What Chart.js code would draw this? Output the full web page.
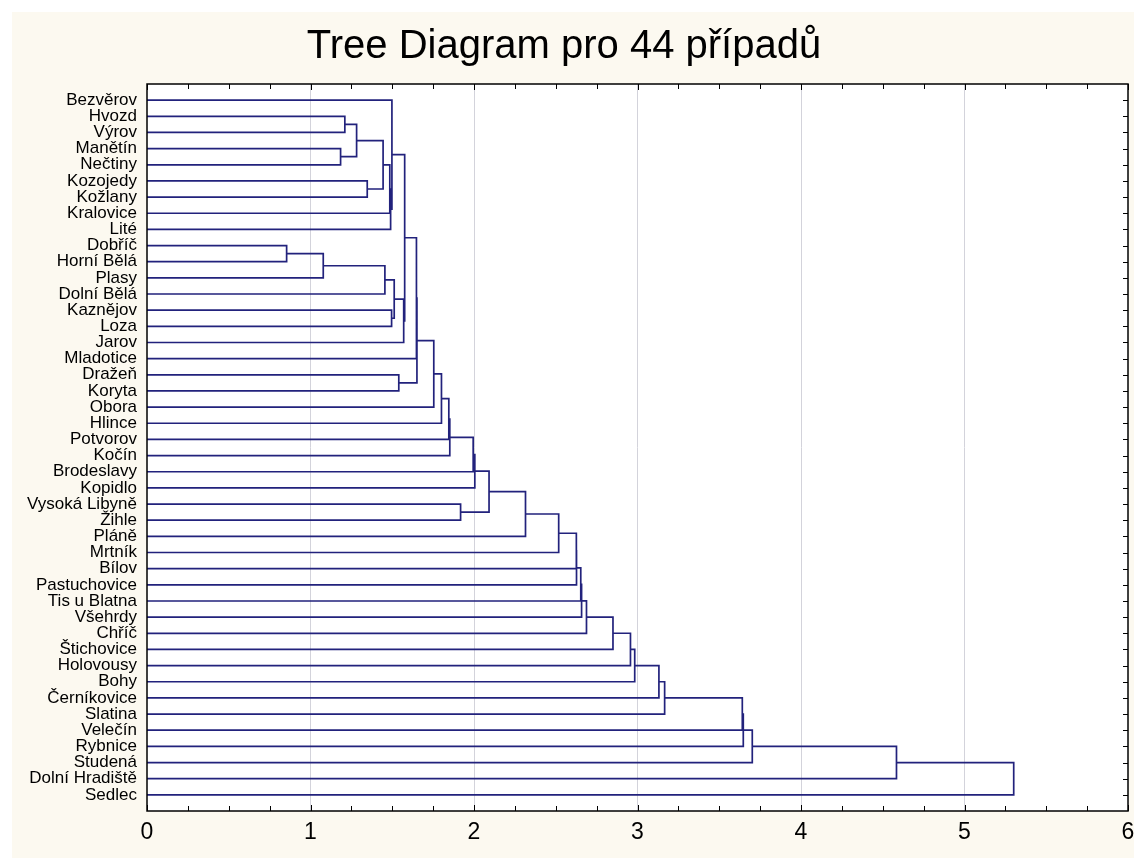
<!DOCTYPE html>
<html>
<head>
<meta charset="utf-8">
<script src="https://cdn.jsdelivr.net/npm/chart.js@4.4.1/dist/chart.umd.min.js"></script>
<style>
  html, body { margin: 0; padding: 0; background: #fff; }
  #wrap { width: 1134px; height: 858px; }
</style>
</head>
<body>
<div id="wrap"><canvas id="treeChart" width="1134" height="858"></canvas></div>
<script>
// leaves, top to bottom
var leafNames = ["Bezvěrov", "Hvozd", "Výrov", "Manětín", "Nečtiny", "Kozojedy", "Kožlany",
  "Kralovice", "Lité", "Dobříč", "Horní Bělá", "Plasy", "Dolní Bělá", "Kaznějov", "Loza",
  "Jarov", "Mladotice", "Dražeň", "Koryta", "Obora", "Hlince", "Potvorov", "Kočín",
  "Brodeslavy", "Kopidlo", "Vysoká Libyně", "Žihle", "Pláně", "Mrtník", "Bílov",
  "Pastuchovice", "Tis u Blatna", "Všehrdy", "Chříč", "Štichovice", "Holovousy", "Bohy",
  "Černíkovice", "Slatina", "Velečín", "Rybnice", "Studená", "Dolní Hradiště", "Sedlec"];

// merge steps: node ids 0..43 are leaves, 44+k is the cluster made by step k
var mergeLeft  = [9, 44, 3, 1, 47, 5, 48, 45, 50, 52, 13, 0, 51, 56, 55, 17, 58, 60, 61, 62, 63, 64,
  65, 66, 25, 67, 69, 70, 71, 72, 73, 74, 75, 76, 77, 78, 79, 80, 81, 82, 83, 84, 85];
var mergeRight = [10, 11, 4, 2, 46, 6, 49, 12, 7, 8, 14, 53, 54, 15, 57, 18, 16, 59, 19, 20, 21, 22,
  23, 24, 26, 68, 27, 28, 29, 30, 31, 32, 33, 34, 35, 36, 37, 38, 39, 40, 41, 42, 43];
var mergeDist  = [0.854, 1.078, 1.184, 1.210, 1.282, 1.347, 1.444, 1.455, 1.485, 1.490, 1.496, 1.498,
  1.512, 1.570, 1.576, 1.540, 1.648, 1.651, 1.754, 1.801, 1.846, 1.852, 1.995, 2.005, 1.918,
  2.092, 2.315, 2.518, 2.626, 2.627, 2.653, 2.658, 2.688, 2.850, 2.957, 2.983, 3.131, 3.166,
  3.641, 3.647, 3.702, 4.584, 5.301];

var xTicks = [0, 1, 2, 3, 4, 5, 6];

var lineColor = 'rgb(34,34,124)';
var fontFam = '"Liberation Sans", Arial, sans-serif';

// row position and height of every node
var nLeaf = leafNames.length;
var rowPos = [], nodeDist = [], parentDist = [];
for (var i = 0; i < nLeaf; i++) { rowPos[i] = i; nodeDist[i] = 0; }
for (var k = 0; k < mergeDist.length; k++) {
  var id = nLeaf + k;
  rowPos[id] = (rowPos[mergeLeft[k]] + rowPos[mergeRight[k]]) / 2;
  nodeDist[id] = mergeDist[k];
  parentDist[mergeLeft[k]] = mergeDist[k];
  parentDist[mergeRight[k]] = mergeDist[k];
}

var treePoints = [];
function addSeg(x1, y1, x2, y2) {
  treePoints.push({x: x1, y: y1}, {x: x2, y: y2}, {x: null, y: null});
}
for (var n = 0; n < rowPos.length; n++) {
  if (parentDist[n] !== undefined) addSeg(nodeDist[n], rowPos[n], parentDist[n], rowPos[n]);
}
for (var k = 0; k < mergeDist.length; k++) {
  addSeg(mergeDist[k], rowPos[mergeLeft[k]], mergeDist[k], rowPos[mergeRight[k]]);
}

var bgPlugin = {
  id: 'bg',
  beforeDraw: function(chart) {
    var c = chart.ctx, a = chart.chartArea;
    c.save();
    c.fillStyle = '#ffffff';
    c.fillRect(0, 0, chart.width, chart.height);
    c.fillStyle = '#fcf9f0';
    c.fillRect(12, 12, chart.width - 12, chart.height - 12);
    c.fillStyle = '#ffffff';
    c.fillRect(a.left, a.top, a.right - a.left, a.bottom - a.top);
    c.restore();
  }
};

var framePlugin = {
  id: 'frame',
  afterDraw: function(chart) {
    var c = chart.ctx, a = chart.chartArea;
    var xs = chart.scales.x, ys = chart.scales.y;
    c.save();
    c.strokeStyle = '#000';
    c.lineWidth = 1.5;
    c.strokeRect(a.left, a.top, a.right - a.left, a.bottom - a.top);
    c.lineWidth = 1;
    c.beginPath();
    for (var v = 0; v <= 6; v += 0.25) {
      var px = Math.round(xs.getPixelForValue(v)) + 0.5;
      var len = (v % 1 === 0) ? 6 : 5;
      c.moveTo(px, a.bottom); c.lineTo(px, a.bottom - len);
      c.moveTo(px, a.top); c.lineTo(px, a.top + len);
    }
    for (var r = 0; r < leafNames.length; r++) {
      var py = Math.round(ys.getPixelForValue(r)) + 0.5;
      c.moveTo(a.right, py); c.lineTo(a.right - 5, py);
    }
    c.stroke();
    c.restore();
  }
};

var ctx = document.getElementById('treeChart').getContext('2d');
var treeChart = new Chart(ctx, {
  type: 'line',
  data: {
    datasets: [{
      data: treePoints,
      borderColor: lineColor,
      borderWidth: 1.7,
      borderCapStyle: 'square',
      pointRadius: 0,
      spanGaps: false,
      tension: 0,
      fill: false
    }]
  },
  options: {
    responsive: false,
    animation: false,
    layout: { padding: { left: 0, right: 6, top: 0, bottom: 0 } },
    plugins: {
      legend: { display: false },
      tooltip: { enabled: false },
      title: {
        display: true,
        text: 'Tree Diagram pro 44 případů',
        color: '#000',
        font: { family: fontFam, size: 40, weight: 'normal', lineHeight: 1.2 },
        padding: { top: 23, bottom: 13 }
      }
    },
    scales: {
      x: {
        type: 'linear',
        min: 0,
        max: 6,
        afterBuildTicks: function(s) { s.ticks = xTicks.map(function(v) { return {value: v}; }); },
        ticks: { color: '#000', font: { family: fontFam, size: 23 }, padding: 8 },
        grid: {
          drawTicks: false,
          color: function(c) {
            return (c.tick && (c.tick.value === 0 || c.tick.value === 6)) ? 'rgba(0,0,0,0)' : '#d3d3db';
          }
        },
        border: { display: false },
        afterFit: function(s) { s.height = 47; s.paddingLeft = 0; s.paddingRight = 0; }
      },
      y: {
        type: 'linear',
        min: -1,
        max: 44,
        reverse: true,
        afterBuildTicks: function(s) { s.ticks = leafNames.map(function(n, i) { return {value: i}; }); },
        ticks: {
          autoSkip: false,
          color: '#000',
          font: { family: fontFam, size: 17 },
          padding: 10,
          callback: function(v) { return leafNames[v]; }
        },
        grid: { display: false, drawTicks: false },
        border: { display: false },
        afterFit: function(s) { s.width = 147; s.paddingTop = 0; s.paddingBottom = 0; }
      }
    }
  },
  plugins: [bgPlugin, framePlugin]
});
</script>
</body>
</html>
